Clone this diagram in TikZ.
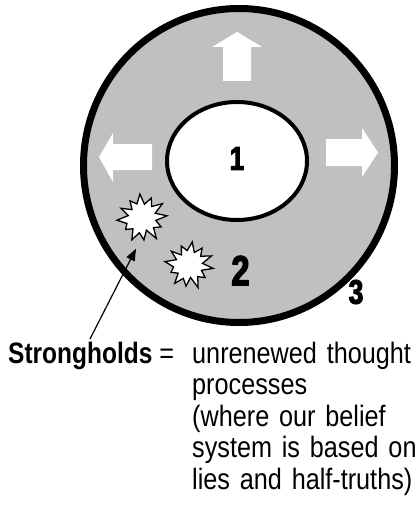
\documentclass[tikz,border=0pt]{standalone}
\usepackage{fontspec}
\setmainfont{Liberation Sans}[FakeStretch=0.855,BoldFeatures={FakeStretch=0.83}]
\newfontfamily\numfont{Liberation Sans}[UprightFont=* Bold,FakeStretch=0.78,FakeBold=3]
\usetikzlibrary{arrows.meta,positioning}
\definecolor{ring}{HTML}{C0C0C0}
\tikzset{num/.style={inner sep=0pt,font=\numfont\fontsize{#1}{#1}\selectfont},
  wharrow/.style={fill=white,draw=none},
  burst/.style={draw=black,fill=white,line width=1.3pt,line join=miter},
  ptr/.style={-{Triangle[length=12pt,width=9pt]},line width=1.2pt},
  txt/.style={inner sep=0pt,font=\fontsize{29.5}{31.5}\selectfont}}
\def\burstpts{15/14,30/21,45/15,60/25,75/13,90/22,105/15,120/24,135/14,150/20,165/16,180/25,195/14,210/23,225/13,240/21,255/15,270/24,285/14,300/22,315/15,330/25,345/14}

\begin{document}
\begin{tikzpicture}[x=1pt,y=-1pt]
\useasboundingbox (0,0) rectangle (416,524);
\draw[line width=7pt,fill=ring] (239,165.5) ellipse [x radius=155.5,y radius=157];
\draw[line width=4pt,fill=white] (237,161) ellipse [x radius=70,y radius=59];
\fill[wharrow] (237,32)--(262,47)--(251,47)--(251,81)--(223,81)--(223,47)--(212,47)--cycle;
\fill[wharrow] (99,157)--(113,133)--(113,144)--(152,144)--(152,170)--(113,170)--(113,182)--cycle;
\fill[wharrow] (378,152.5)--(362,128)--(362,139)--(326,139)--(326,166)--(362,166)--(362,177)--cycle;
\node[circle,minimum size=62pt,inner sep=0pt] (hold1) at (142,218) {};
\node[circle,minimum size=60pt,inner sep=0pt] (hold2) at (189,265) {};
\draw[burst,shift={(hold1)},rotate=5] (0:25) \foreach \a/\r in \burstpts {--(\a:\r)} --cycle;
\draw[burst,shift={(hold2)},rotate=-8,scale=0.97] (0:25) \foreach \a/\r in \burstpts {--(\a:\r)} --cycle;
\node[num=33] (one) at (237,158.5) {1};
\node[num=42] (two) at (240.5,270.5) {2};
\node[num=34] (three) at (356,292) {3};
\coordinate (tail) at (90,339);
\draw[ptr] (tail)--(hold1.259);
\node[txt,anchor=base west] (term) at (8,363) {\textbf{Strongholds} =};
\node[txt,anchor=base west,text width=240pt,align=left] (meaning) at (192,363) {unrenewed thought\\processes\\(where our belief\\system is based on\\lies and half-truths)};
\end{tikzpicture}
\end{document}
